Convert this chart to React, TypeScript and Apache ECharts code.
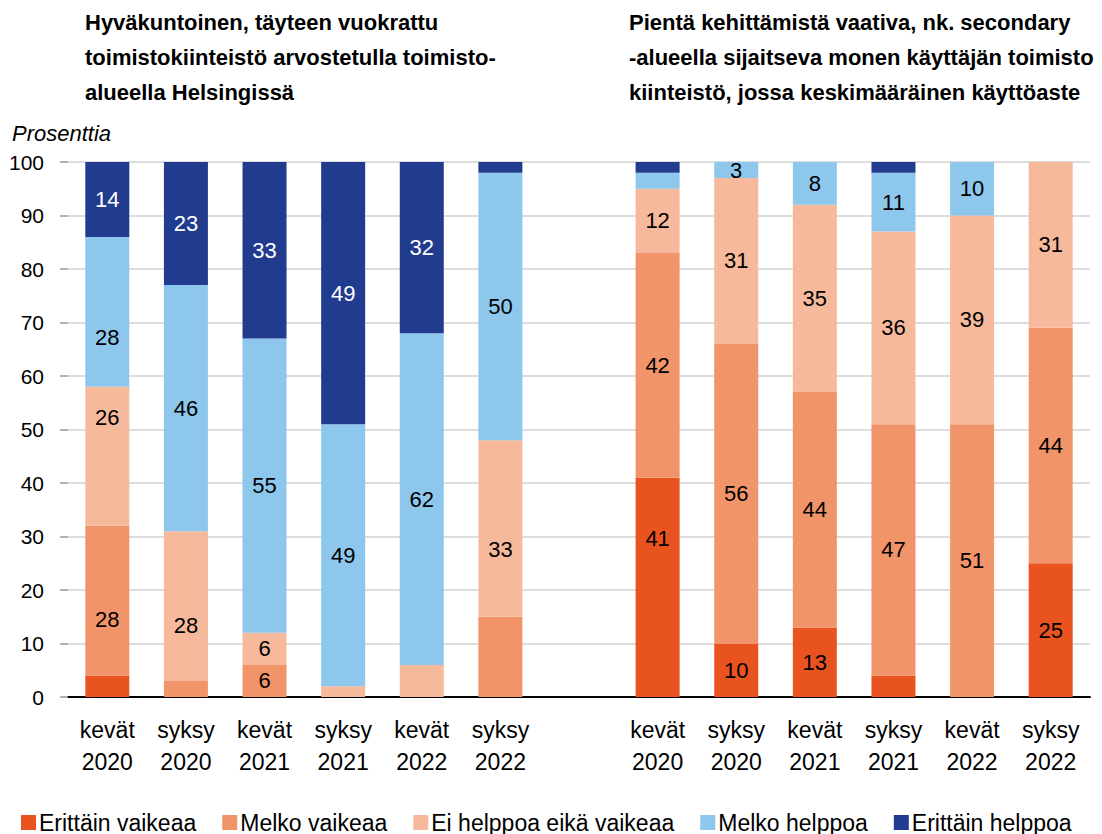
import React, { useEffect, useRef } from "react";
import * as echarts from "echarts";

// Categories: two groups of six survey rounds separated by an empty slot
const categories = [
  "kevät\n2020", "syksy\n2020", "kevät\n2021", "syksy\n2021", "kevät\n2022", "syksy\n2022",
  "",
  "kevät\n2020", "syksy\n2020", "kevät\n2021", "syksy\n2021", "kevät\n2022", "syksy\n2022",
];

const seriesNames = [
  "Erittäin vaikeaa",
  "Melko vaikeaa",
  "Ei helppoa eikä vaikeaa",
  "Melko helppoa",
  "Erittäin helppoa",
];

// Shares (%) per round
const erittainVaikeaa = [4, 0, 0, 0, 0, 0, null, 41, 10, 13, 4, 0, 25];
const melkoVaikeaa = [28, 3, 6, 0, 0, 15, null, 42, 56, 44, 47, 51, 44];
const eiHelppoaEikaVaikeaa = [26, 28, 6, 2, 6, 33, null, 12, 31, 35, 36, 39, 31];
const melkoHelppoa = [28, 46, 55, 49, 62, 50, null, 3, 3, 8, 11, 10, 0];
const erittainHelppoa = [14, 23, 33, 49, 32, 2, null, 2, 0, 0, 2, 0, 0];

// Which segments carry a value label (1 = labelled)
const labelledErittainVaikeaa = [0, 0, 0, 0, 0, 0, 0, 1, 1, 1, 0, 0, 1];
const labelledMelkoVaikeaa = [1, 0, 1, 0, 0, 0, 0, 1, 1, 1, 1, 1, 1];
const labelledEiHelppoa = [1, 1, 1, 0, 0, 1, 0, 1, 1, 1, 1, 1, 1];
const labelledMelkoHelppoa = [1, 1, 1, 1, 1, 1, 0, 0, 1, 1, 1, 1, 0];
const labelledErittainHelppoa = [1, 1, 1, 1, 1, 0, 0, 0, 0, 0, 0, 0, 0];

const yTicks = { min: 0, max: 100, interval: 10 };

const titleLeft =
  "Hyväkuntoinen, täyteen vuokrattu\ntoimistokiinteistö arvostetulla toimisto-\nalueella Helsingissä";
const titleRight =
  "Pientä kehittämistä vaativa, nk. secondary\n-alueella sijaitseva monen käyttäjän toimisto\nkiinteistö, jossa keskimääräinen käyttöaste";

// Styling
const colors = ["#E8531F", "#F2946A", "#F6B99B", "#8DC7EC", "#213C8E"];
const labelColors = ["#000", "#000", "#000", "#000", "#fff"];
const FONT = '"Liberation Sans", Arial, sans-serif';

// Vertical nudges (px) for labels that sit off-centre in their segment
const labelNudge: Record<string, number> = {
  "1-0": 19,
  "2-0": -39,
  "3-0": 26,
  "2-1": 19,
  "2-5": 21,
  "0-7": -49,
};

const valueSets = [erittainVaikeaa, melkoVaikeaa, eiHelppoaEikaVaikeaa, melkoHelppoa, erittainHelppoa];
const labelSets = [
  labelledErittainVaikeaa,
  labelledMelkoVaikeaa,
  labelledEiHelppoa,
  labelledMelkoHelppoa,
  labelledErittainHelppoa,
];

export default function App() {
  const ref = useRef<HTMLDivElement>(null);

  useEffect(() => {
    document.body.style.margin = "0";
    if (!ref.current) return;
    const chart = echarts.init(ref.current, null, { renderer: "svg" });

    const series = seriesNames.map((name, s) => ({
      name,
      type: "bar",
      stack: "total",
      barWidth: 44,
      itemStyle: { color: colors[s] },
      data: valueSets[s].map((v, i) => {
        const shown = labelSets[s][i] === 1 && v !== null;
        const nudge = labelNudge[`${s}-${i}`] || 0;
        return {
          value: v,
          label: {
            show: shown,
            position: "inside",
            offset: [0, nudge],
            color: labelColors[s],
            fontSize: 22,
            fontFamily: FONT,
          },
        };
      }),
    }));

    chart.setOption({
      animation: false,
      textStyle: { fontFamily: FONT },
      grid: { left: 68, right: 12, top: 162, bottom: 137, containLabel: false },
      legend: {
        left: 16,
        top: 806,
        itemWidth: 15,
        itemHeight: 15,
        itemGap: 26,
        icon: "rect",
        textStyle: { fontSize: 23, color: "#000", fontFamily: FONT, padding: [0, 0, 0, -2] },
        data: seriesNames,
      },
      xAxis: {
        type: "category",
        data: categories,
        axisLine: { lineStyle: { color: "#000", width: 2 } },
        axisTick: { show: false },
        axisLabel: {
          interval: 0,
          fontSize: 23,
          lineHeight: 32,
          color: "#000",
          margin: 17,
          fontFamily: FONT,
        },
      },
      yAxis: {
        type: "value",
        min: yTicks.min,
        max: yTicks.max,
        interval: yTicks.interval,
        axisLine: { show: false },
        axisTick: { show: true, length: 8, lineStyle: { color: "#9a9a9a", width: 1.5 } },
        axisLabel: { fontSize: 21, color: "#000", margin: 24, fontFamily: FONT },
        splitLine: { lineStyle: { color: "#d2d2d2", width: 1.5 } },
      },
      graphic: [
        {
          type: "text",
          left: 85,
          top: 5,
          style: {
            text: titleLeft,
            font: `bold 22px ${FONT}`,
            lineHeight: 35,
            fill: "#000",
          },
        },
        {
          type: "text",
          left: 629,
          top: 5,
          style: {
            text: titleRight,
            font: `bold 22px ${FONT}`,
            lineHeight: 35,
            fill: "#000",
          },
        },
        {
          type: "text",
          left: 12,
          top: 122,
          style: {
            text: "Prosenttia",
            font: `italic 22px ${FONT}`,
            fill: "#000",
          },
        },
      ],
      series,
    });

    return () => chart.dispose();
  }, []);

  return <div ref={ref} style={{ width: 1102, height: 834 }} />;
}
